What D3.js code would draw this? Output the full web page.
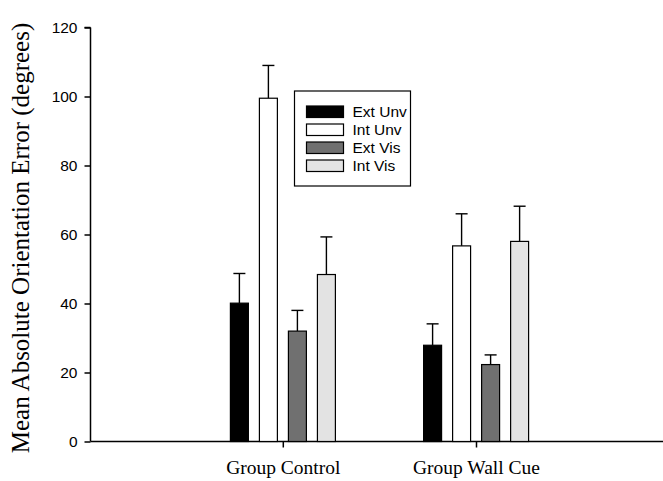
<!DOCTYPE html>
<html>
<head>
<meta charset="utf-8">
<script src="https://cdn.jsdelivr.net/npm/d3@7"></script>
<style>
  body { margin: 0; background: #fff; }
</style>
</head>
<body>
<script>
// chart data
const groups = ["Group Control", "Group Wall Cue"];
const series = ["Ext Unv", "Int Unv", "Ext Vis", "Int Vis"];
const controlMeans = [40.1, 99.5, 32.0, 48.4];
const controlErr = [8.6, 9.5, 6.0, 10.9];
const wallMeans = [27.9, 56.7, 22.3, 58.0];
const wallErr = [6.2, 9.3, 2.8, 10.2];
const yTicks = [0, 20, 40, 60, 80, 100, 120];
const fills = ["#000000", "#ffffff", "#707070", "#e3e3e3"];

const means = [controlMeans, wallMeans];
const errs = [controlErr, wallErr];

const width = 663, height = 481;
const svg = d3.select("body").append("svg")
  .attr("width", width)
  .attr("height", height);

// scales
const y = d3.scaleLinear().domain([0, 120]).range([441.5, 27.5]);
const x = d3.scalePoint().domain(groups).range([282.8, 476]);
const inner = d3.scaleBand().domain(series).range([-52.4, 52.6]).paddingInner(0.38);

//y axis
const yAxis = svg.append("g")
  .attr("transform", "translate(90.5,0)")
  .call(d3.axisLeft(y).tickValues(yTicks).tickSize(6).tickPadding(7));
yAxis.select(".domain").attr("d", `M0,${y(120)}H-6M0,${y(120)}V${y(0)}`).attr("stroke-width", 1.5);
yAxis.selectAll(".tick line").attr("stroke-width", 1.5);
yAxis.selectAll(".tick text")
  .attr("font-family", "Liberation Sans, Arial, sans-serif")
  .attr("font-size", 15.5)
  .attr("fill", "#000");

//x axis
const xAxis = svg.append("g")
  .attr("transform", `translate(0,${y(0)})`)
  .call(d3.axisBottom(x).tickSize(6).tickPadding(13));
xAxis.select(".domain").attr("d", `M90.5,0H663`).attr("stroke-width", 1.5);
xAxis.selectAll(".tick line").attr("stroke-width", 1.5);
xAxis.selectAll(".tick text")
  .attr("font-family", "Liberation Serif, Times New Roman, serif")
  .attr("font-size", 19.5)
  .attr("fill", "#000");

//bars with error bars
groups.forEach((g, gi) => {
  const gg = svg.append("g").attr("transform", `translate(${x(g)},0)`);
  series.forEach((s, si) => {
    const v = means[gi][si];
    const top = v + errs[gi][si];
    const cx = inner(s) + inner.bandwidth() / 2;
    // error bar (upper only)
    gg.append("line")
      .attr("x1", cx).attr("x2", cx)
      .attr("y1", y(v)).attr("y2", y(top))
      .attr("stroke", "#000").attr("stroke-width", 1.4);
    gg.append("line")
      .attr("x1", cx - 6).attr("x2", cx + 6)
      .attr("y1", y(top)).attr("y2", y(top))
      .attr("stroke", "#000").attr("stroke-width", 1.4);
    gg.append("rect")
      .attr("x", inner(s))
      .attr("y", y(v))
      .attr("width", inner.bandwidth())
      .attr("height", y(0) - y(v))
      .attr("fill", fills[si])
      .attr("stroke", "#000")
      .attr("stroke-width", 1.2);
  });
});

//legend
const legend = svg.append("g").attr("transform", "translate(294.5,91)");
legend.append("rect")
  .attr("width", 116).attr("height", 95)
  .attr("fill", "#fff").attr("stroke", "#000").attr("stroke-width", 1.2);
series.forEach((s, i) => {
  const row = legend.append("g").attr("transform", `translate(12,${15 + i * 18})`);
  row.append("rect")
    .attr("width", 37).attr("height", 11.5)
    .attr("fill", fills[i]).attr("stroke", "#000").attr("stroke-width", 1.2);
  row.append("text")
    .attr("x", 46).attr("y", 6.5)
    .attr("dominant-baseline", "middle")
    .attr("font-family", "Liberation Sans, Arial, sans-serif")
    .attr("font-size", 15.5)
    .text(s);
});

//y axis title
svg.append("text")
  .attr("transform", "translate(29,238) rotate(-90)")
  .attr("text-anchor", "middle")
  .attr("font-family", "Liberation Serif, Times New Roman, serif")
  .attr("font-size", 25)
  .text("Mean Absolute Orientation Error (degrees)");
</script>
</body>
</html>
